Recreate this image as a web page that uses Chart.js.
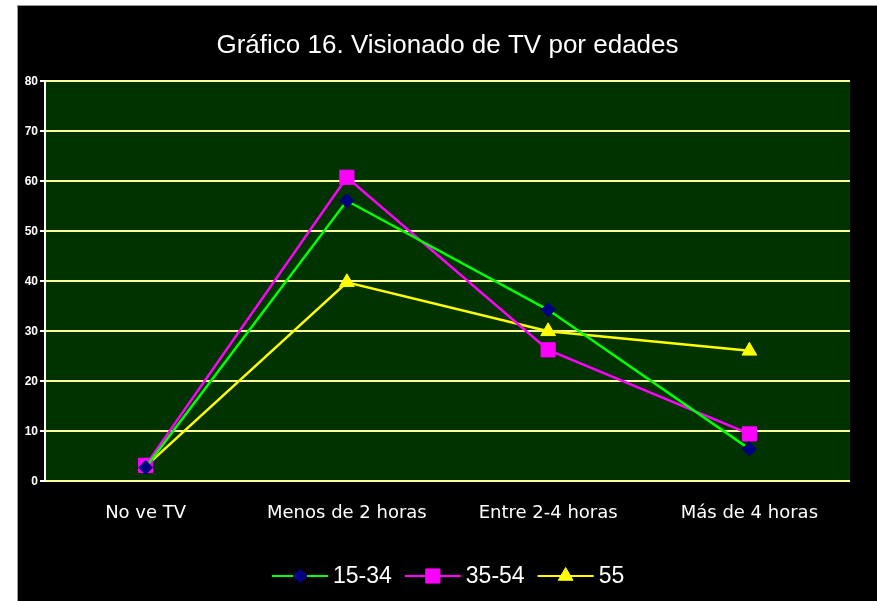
<!DOCTYPE html>
<html>
<head>
<meta charset="utf-8">
<script src="https://cdn.jsdelivr.net/npm/chart.js@4"></script>
<style>
  body { margin: 0; background: #fff; }
  #wrap { position: absolute; left: 17px; top: 5px; width: 860px; height: 596px; background: #000; border-left: 1px solid #999; border-top: 1px solid #999; box-sizing: border-box; }
</style>
</head>
<body>
<div id="wrap"><canvas id="myChart" width="859" height="595"></canvas></div>
<script>
var categories = ['No ve TV', 'Menos de 2 horas', 'Entre 2-4 horas', 'Más de 4 horas'];
var serie1534 = [2.8, 56.1, 34.3, 6.5];
var serie3554 = [3.2, 60.8, 26.3, 9.5];
var serie55 = [3.0, 39.8, 30.0, 26.1];
var yTicks = [0, 10, 20, 30, 40, 50, 60, 70, 80];

// fondo verde del area de trazado
var plotBg = {
    id: 'plotBg',
    beforeDraw: function (chart) {
        var a = chart.chartArea, c = chart.ctx;
        c.save();
        c.fillStyle = '#003300';
        c.fillRect(a.left, a.top, a.right - a.left, a.bottom - a.top);
        c.restore();
    }
};

// leyenda con linea + marcador, como en Excel
var lineLegend = {
    id: 'lineLegend',
    afterDraw: function (chart) {
        var c = chart.ctx;
        var y = 570;
        var x = 254;
        c.save();
        c.font = '23px "Liberation Sans", Arial, sans-serif';
        c.textBaseline = 'middle';
        chart.data.datasets.forEach(function (ds) {
            c.strokeStyle = ds.borderColor;
            c.lineWidth = 2;
            c.beginPath();
            c.moveTo(x, y);
            c.lineTo(x + 56, y);
            c.stroke();
            c.fillStyle = ds.pointBackgroundColor;
            c.strokeStyle = ds.pointBorderColor;
            c.lineWidth = 1;
            Chart.helpers.drawPoint(c, {
                pointStyle: ds.pointStyle,
                radius: ds.pointRadius,
                borderWidth: 1
            }, x + 28, y);
            c.fillStyle = '#fff';
            c.fillText(ds.label, x + 61, y + 1);
            x += 61 + c.measureText(ds.label).width + 13;
        });
        c.restore();
    }
};

var ctx = document.getElementById('myChart').getContext('2d');
var myChart = new Chart(ctx, {
    type: 'line',
    data: {
        labels: categories,
        datasets: [
        {
            label: '15-34',
            data: serie1534,
            borderColor: '#00ff00',
            borderWidth: 2.5,
            pointStyle: 'rectRot',
            pointRadius: 7,
            pointBackgroundColor: '#000080',
            pointBorderColor: '#000080',
            pointBorderWidth: 1
        },
        {
            label: '35-54',
            data: serie3554,
            borderColor: '#ff00ff',
            borderWidth: 2.5,
            pointStyle: 'rect',
            pointRadius: 10,
            pointBackgroundColor: '#ff00ff',
            pointBorderColor: '#ff00ff',
            pointBorderWidth: 1
        },
        {
            label: '55',
            data: serie55,
            borderColor: '#ffff00',
            borderWidth: 2.5,
            pointStyle: 'triangle',
            pointRadius: 8.5,
            pointBackgroundColor: '#ffff00',
            pointBorderColor: '#ffff00',
            pointBorderWidth: 1
        }]
    },
    options: {
        responsive: false,
        animation: false,
        layout: {
            padding: { left: 0, right: 0, top: 0, bottom: 64 }
        },
        plugins: {
            legend: { display: false },
            tooltip: { enabled: false },
            title: {
                display: true,
                text: 'Gráfico 16. Visionado de TV por edades',
                color: '#fff',
                font: { family: '"Liberation Sans Narrow", "Arial Narrow", sans-serif', size: 26, weight: 'normal' },
                padding: { top: 24, bottom: 20 }
            }
        },
        scales: {
            x: {
                offset: true,
                grid: { display: false },
                border: { display: false },
                ticks: {
                    color: '#fff',
                    padding: 13,
                    font: { family: '"DejaVu Sans", sans-serif', size: 18 }
                }
            },
            y: {
                min: 0,
                max: 80,
                afterBuildTicks: function (scale) {
                    scale.ticks = yTicks.map(function (v) { return { value: v }; });
                },
                afterFit: function (scale) { scale.width = 27; },
                border: { display: true, color: '#fff', width: 2 },
                grid: {
                    color: '#ffff99',
                    lineWidth: 2,
                    tickColor: '#fff',
                    tickLength: 5
                },
                ticks: {
                    color: '#fff',
                    padding: 2,
                    font: { family: '"Liberation Sans", Arial, sans-serif', size: 12, weight: 'bold' }
                }
            },
            // eje vacio a la derecha solo para dejar el margen negro
            yRight: {
                position: 'right',
                min: 0,
                max: 80,
                grid: { display: false },
                border: { display: false },
                ticks: { display: false },
                afterFit: function (scale) { scale.width = 27; }
            }
        }
    },
    plugins: [plotBg, lineLegend]
});
</script>
</body>
</html>
